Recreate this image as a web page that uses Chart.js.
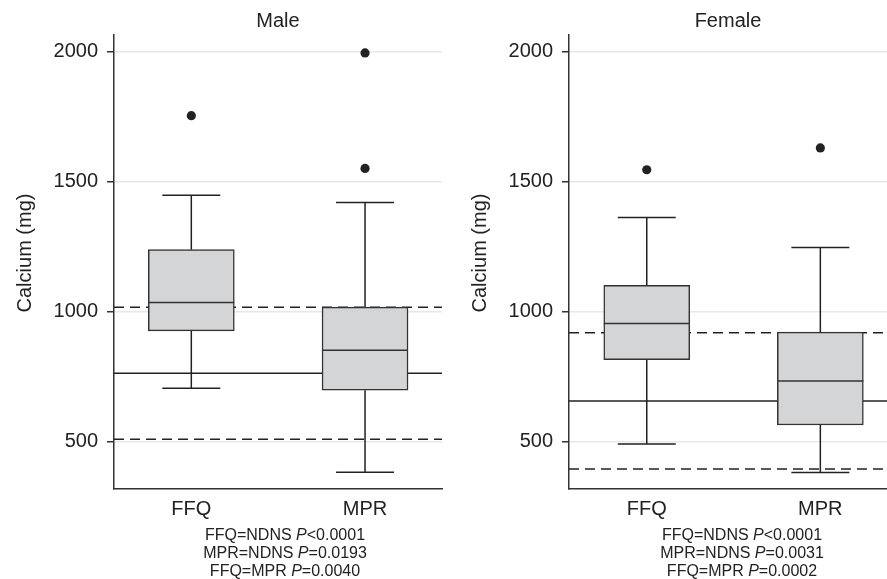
<!DOCTYPE html>
<html><head><meta charset="utf-8">
<script src="https://cdn.jsdelivr.net/npm/chart.js@4.4.1/dist/chart.umd.min.js"></script>
<style>
html,body{margin:0;padding:0;background:#fff;width:887px;height:579px;overflow:hidden;position:relative;font-family:"Liberation Sans",Arial,Helvetica,sans-serif;}
canvas{position:absolute;top:0;}
#maleCanvas{left:0;}
#femaleCanvas{left:455px;}
.note{position:absolute;top:526px;font-size:16px;line-height:17.9px;color:#222;text-align:center;white-space:nowrap;transform:translateX(-50%);}
</style></head><body>
<canvas id="maleCanvas" width="443" height="579"></canvas>
<canvas id="femaleCanvas" width="432" height="579"></canvas>
<div class="note" id="maleNote" style="left:285px"></div>
<div class="note" id="femaleNote" style="left:742px"></div>
<script>
// ---------- data ----------
const categories = ['FFQ', 'MPR'];
const yTickValues = [500, 1000, 1500, 2000];
const yAxisTitle = 'Calcium (mg)';

// Male
const maleLow      = [705, 382];
const maleQ1       = [926, 698];
const maleMedian   = [1035, 851];
const maleQ3       = [1238, 1017];
const maleHigh     = [1447, 1419];
const maleOutliers = [[1753], [1994, 1550]];
const maleDashed   = [1017, 509];
const maleSolid    = [763];
const maleNotes    = [['FFQ=NDNS', '<0.0001'], ['MPR=NDNS', '=0.0193'], ['FFQ=MPR', '=0.0040']];

// Female
const femaleLow      = [491, 381];
const femaleQ1       = [815, 564];
const femaleMedian   = [954, 733];
const femaleQ3       = [1101, 921];
const femaleHigh     = [1362, 1246];
const femaleOutliers = [[1545], [1629]];
const femaleDashed   = [919, 395];
const femaleSolid    = [656];
const femaleNotes    = [['FFQ=NDNS', '<0.0001'], ['MPR=NDNS', '=0.0031'], ['FFQ=MPR', '=0.0002']];

// ---------- styling ----------
const FONT = '"Liberation Sans", Arial, Helvetica, sans-serif';
const INK = '#222222';
const AXIS = '#333333';
const BOX_FILL = '#d4d5d7';
const CAP_HALF = 29;

function buildNotes(el, notes) {
  notes.forEach((n, i) => {
    if (i > 0) el.appendChild(document.createElement('br'));
    el.appendChild(document.createTextNode(n[0] + ' '));
    const it = document.createElement('i');
    it.textContent = 'P';
    el.appendChild(it);
    el.appendChild(document.createTextNode(n[1]));
  });
}

function makePanel(canvasId, title, s, xMin, xMax) {
  const refData = (v) => [{x: xMin, y: v}, {x: xMax, y: v}];
  const datasets = [];
  s.dashed.forEach(v => datasets.push({
    type: 'line', data: refData(v), borderColor: INK, borderWidth: 1.5,
    borderDash: [10, 6], pointRadius: 0, fill: false, order: 3
  }));
  s.solid.forEach(v => datasets.push({
    type: 'line', data: refData(v), borderColor: INK, borderWidth: 1.5,
    pointRadius: 0, fill: false, order: 3
  }));
  const boxIndex = datasets.length;
  datasets.push({
    type: 'bar',
    data: categories.map((c, i) => ({x: i + 1, y: [s.q1[i], s.q3[i]]})),
    backgroundColor: BOX_FILL, borderColor: AXIS, borderWidth: 1.5,
    borderSkipped: false, barThickness: 86, order: 2
  });
  const outPts = [];
  s.outliers.forEach((arr, i) => arr.forEach(v => outPts.push({x: i + 1, y: v})));
  datasets.push({
    type: 'scatter', data: outPts, pointRadius: 4.6, pointBackgroundColor: INK,
    pointBorderWidth: 0, order: 1
  });

  const whiskerPlugin = {
    id: 'whiskers_' + canvasId,
    afterDatasetsDraw(chart) {
      const xs = chart.scales.x, ys = chart.scales.y, ctx = chart.ctx;
      const bars = chart.getDatasetMeta(boxIndex).data;
      ctx.save();
      ctx.lineWidth = 1.5;
      categories.forEach((c, i) => {
        const x = xs.getPixelForValue(i + 1);
        const half = bars[i].width / 2;
        const pLow = ys.getPixelForValue(s.low[i]);
        const pQ1 = ys.getPixelForValue(s.q1[i]);
        const pMed = ys.getPixelForValue(s.median[i]);
        const pQ3 = ys.getPixelForValue(s.q3[i]);
        const pHigh = ys.getPixelForValue(s.high[i]);
        ctx.strokeStyle = INK;
        ctx.beginPath();
        ctx.moveTo(x, pQ3); ctx.lineTo(x, pHigh);
        ctx.moveTo(x, pQ1); ctx.lineTo(x, pLow);
        ctx.moveTo(x - CAP_HALF, pHigh); ctx.lineTo(x + CAP_HALF, pHigh);
        ctx.moveTo(x - CAP_HALF, pLow); ctx.lineTo(x + CAP_HALF, pLow);
        ctx.stroke();
        ctx.strokeStyle = AXIS;
        ctx.beginPath();
        ctx.moveTo(x - half, pMed); ctx.lineTo(x + half, pMed);
        ctx.stroke();
      });
      ctx.restore();
    },
    afterDraw(chart) {
      // y-axis title, placed beside the y scale
      const ys = chart.scales.y, ctx = chart.ctx;
      const cy = (chart.chartArea.top + chart.chartArea.bottom) / 2 - 9;
      ctx.save();
      ctx.translate(ys.left + 25, cy);
      ctx.rotate(-Math.PI / 2);
      ctx.font = '20px ' + FONT;
      ctx.fillStyle = INK;
      ctx.textAlign = 'center';
      ctx.textBaseline = 'middle';
      ctx.fillText(yAxisTitle, 0, 0);
      ctx.restore();
    }
  };

  return new Chart(document.getElementById(canvasId), {
    type: 'bar',
    data: {datasets},
    plugins: [whiskerPlugin],
    options: {
      responsive: false,
      animation: false,
      devicePixelRatio: 1,
      layout: {autoPadding: false, padding: {left: 0, right: canvasId === 'maleCanvas' ? 1 : 0, top: 0, bottom: 0}},
      plugins: {
        legend: {display: false},
        tooltip: {enabled: false},
        title: {
          display: true, text: title, fullSize: false, color: INK,
          font: {family: FONT, size: 20, weight: 'normal', lineHeight: 1.2},
          padding: {top: 9, bottom: 2}
        }
      },
      scales: {
        x: {
          type: 'linear', min: xMin, max: xMax, offset: false,
          grid: {display: false, drawTicks: false, tickLength: 0},
          border: {display: true, color: AXIS, width: 1.5},
          afterBuildTicks: (sc) => { sc.ticks = categories.map((c, i) => ({value: i + 1})); },
          afterFit: (sc) => { sc.height = 90; },
          ticks: {
            color: INK, padding: 8, maxRotation: 0, autoSkip: false,
            font: {family: FONT, size: 20, lineHeight: 1.2},
            callback: (v) => categories[v - 1]
          }
        },
        y: {
          type: 'linear', min: 318, max: 2063,
          afterBuildTicks: (sc) => { sc.ticks = yTickValues.map(v => ({value: v})); },
          afterFit: (sc) => { sc.width = 114; },
          grid: {color: '#e8e8e8', lineWidth: 1.5, tickColor: AXIS, tickLength: 7, tickWidth: 1.5},
          border: {display: true, color: AXIS, width: 1.5},
          ticks: {
            color: INK, padding: 9,
            font: {family: FONT, size: 20, lineHeight: 1.2},
            callback: (v) => String(v)
          },
          title: {display: false}
        }
      }
    }
  });
}

makePanel('maleCanvas', 'Male', {
  low: maleLow, q1: maleQ1, median: maleMedian, q3: maleQ3, high: maleHigh,
  outliers: maleOutliers, dashed: maleDashed, solid: maleSolid
}, 0.555, 2.443);

makePanel('femaleCanvas', 'Female', {
  low: femaleLow, q1: femaleQ1, median: femaleMedian, q3: femaleQ3, high: femaleHigh,
  outliers: femaleOutliers, dashed: femaleDashed, solid: femaleSolid
}, 0.552, 2.384);

buildNotes(document.getElementById('maleNote'), maleNotes);
buildNotes(document.getElementById('femaleNote'), femaleNotes);
</script>
</body></html>
